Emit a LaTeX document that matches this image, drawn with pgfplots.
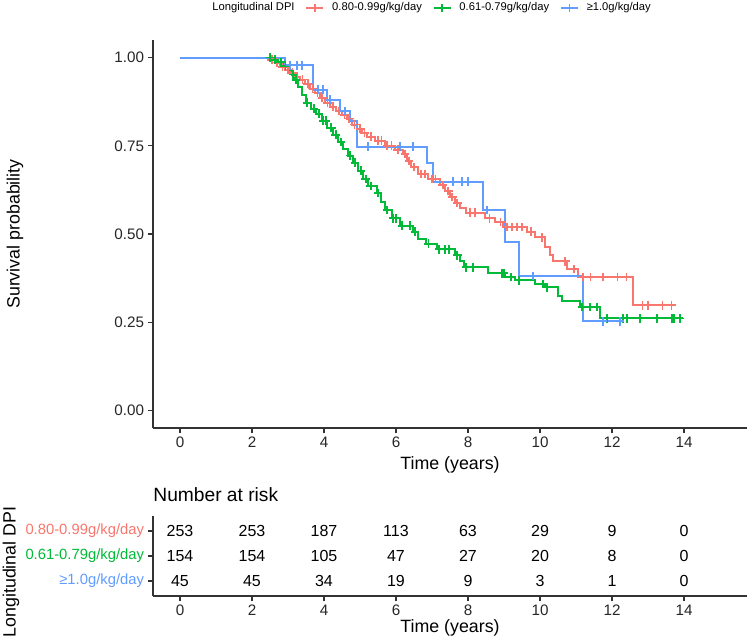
\documentclass[border=0pt]{standalone}
\usepackage{pgfplots}
\pgfplotsset{compat=1.18}
\usepackage{fontspec}
\setmainfont{Liberation Sans}
\definecolor{cred}{HTML}{F8766D}
\definecolor{cgreen}{HTML}{00BA38}
\definecolor{cblue}{HTML}{619CFF}

% shared look of the survival panel and the risk table
\pgfplotsset{
  km/.style={
    scale only axis, width=297pt,
    xmin=-0.75, xmax=15.75,
    xtick={0,2,...,14},
    axis lines*=left,
    axis line style={-, line width=0.6pt, black!80},
    tick align=outside, major tick length=2.5pt,
    tick style={line width=0.6pt, black!80},
    tick label style={font=\fontsize{7.6}{9}\selectfont, text=black!85, inner sep=1.8pt},
    label style={font=\fontsize{8.9}{10}\selectfont},
    /pgf/number format/assume math mode=true,
  },
  censor/.style={only marks, mark=+, mark size=2.2pt, mark options={line width=0.8pt}, forget plot},
  step/.style={const plot, line width=1pt, forget plot},
}

\begin{document}
\begin{tikzpicture}
\useasboundingbox (0,0) rectangle (375pt,-321pt);

\begin{axis}[km,
    at={(76.5pt,-214pt)}, anchor=south west, height=194pt,
    ymin=-0.05, ymax=1.05, ytick={0,0.25,0.5,0.75,1},
    yticklabel style={/pgf/number format/.cd, fixed, fixed zerofill, precision=2},
    xlabel={Time (years)}, ylabel={Survival probability},
    xlabel style={at={(axis description cs:0.5,-0.0954)}, anchor=center},
    ylabel style={at={(axis description cs:-0.2323,0.5)}, anchor=center},
    legend style={at={(axis description cs:0.0859,1.0825)}, anchor=west,
      draw=none, fill=none, inner sep=0pt, legend columns=-1,
      font=\fontsize{5.6}{7}\selectfont,
      nodes={inner sep=0.5pt},
      /tikz/every odd column/.append style={column sep=3.5pt},
      /tikz/every even column/.append style={column sep=5pt}},
    legend image code/.code={
      \draw[#1, line width=0.8pt] (0pt,0pt) -- (8.5pt,0pt);
      \draw[#1, line width=0.8pt] (4.25pt,-2pt) -- (4.25pt,2pt);},
]
\addlegendimage{empty legend}\addlegendentry{Longitudinal DPI}
\addlegendimage{cred}\addlegendentry{0.80-0.99g/kg/day}
\addlegendimage{cgreen}\addlegendentry{0.61-0.79g/kg/day}
\addlegendimage{cblue}\addlegendentry{≥1.0g/kg/day}

% 0.80-0.99 g/kg/day
\addplot[step, cred] coordinates {
(0,1) (2.50,0.994) (2.64,0.986) (2.78,0.974) (2.92,0.966) (3.06,0.957)
(3.19,0.946) (3.33,0.938) (3.47,0.926) (3.61,0.912) (3.75,0.901) (3.89,0.886)
(4.03,0.872) (4.17,0.861) (4.33,0.849) (4.50,0.838) (4.64,0.827) (4.78,0.810)
(4.92,0.798) (5.06,0.787) (5.19,0.776) (5.42,0.764) (5.69,0.750) (5.97,0.739)
(6.19,0.727) (6.31,0.707) (6.42,0.690) (6.61,0.670) (6.89,0.656) (7.22,0.639)
(7.36,0.622) (7.50,0.605) (7.64,0.588) (7.78,0.574) (7.94,0.560) (8.47,0.545)
(8.75,0.534) (8.97,0.520) (9.64,0.506) (9.86,0.491) (10.14,0.463) (10.28,0.440)
(10.36,0.423) (10.75,0.401) (11.06,0.378) (12.58,0.298) (13.69,0.298)
};
% 0.61-0.79 g/kg/day
\addplot[step, cgreen] coordinates {
(0,1) (2.56,0.994) (2.72,0.987) (2.86,0.977) (3.00,0.966) (3.11,0.952)
(3.19,0.937) (3.28,0.918) (3.39,0.895) (3.50,0.872) (3.64,0.855) (3.78,0.841)
(3.94,0.821) (4.08,0.801) (4.25,0.781) (4.39,0.761) (4.53,0.741) (4.67,0.722)
(4.81,0.702) (4.94,0.679) (5.08,0.656) (5.22,0.636) (5.47,0.616) (5.58,0.591)
(5.69,0.568) (5.89,0.545) (6.11,0.523) (6.47,0.506) (6.61,0.486) (6.83,0.472)
(7.14,0.457) (7.64,0.440) (7.78,0.423) (7.89,0.406) (8.56,0.389) (9.03,0.378)
(9.31,0.369) (9.86,0.358) (10.14,0.349) (10.50,0.324) (10.61,0.310) (11.11,0.293)
(11.67,0.261) (13.97,0.261)
};
% >=1.0 g/kg/day
\addplot[step, cblue] coordinates {
(0,1) (2.92,0.978) (3.69,0.909) (4.08,0.881) (4.44,0.849) (4.72,0.821)
(4.92,0.747) (6.86,0.702) (7.03,0.648) (8.42,0.568) (9.03,0.477) (9.42,0.381)
(11.19,0.253) (12.28,0.253)
};

% censoring marks
\addplot[censor, cred] coordinates {
(2.55,0.994) (2.70,0.986) (2.85,0.974) (3.00,0.966) (3.12,0.957) (3.25,0.946)
(3.40,0.938) (3.55,0.926) (3.68,0.912) (3.82,0.901) (3.95,0.886) (4.10,0.872)
(4.25,0.861) (4.42,0.849) (4.57,0.838) (4.70,0.827) (4.85,0.810) (5.00,0.798)
(5.12,0.787) (5.30,0.776) (5.50,0.764) (5.60,0.764) (5.75,0.750) (5.88,0.750)
(6.05,0.739) (6.25,0.727) (6.36,0.707) (6.50,0.690) (6.70,0.670) (6.80,0.670)
(7.00,0.656) (7.10,0.656) (7.30,0.639) (7.45,0.622) (7.56,0.605) (7.70,0.588)
(8.05,0.560) (8.20,0.560) (8.60,0.545) (8.90,0.534) (9.08,0.520) (9.22,0.520)
(9.36,0.520) (9.50,0.520) (9.75,0.506) (10.05,0.491) (10.70,0.423) (10.95,0.401)
(11.20,0.378) (11.40,0.378) (11.75,0.378) (12.15,0.378) (12.40,0.378)
(12.85,0.298) (13.00,0.298) (13.40,0.298) (13.65,0.298)
};
\addplot[censor, cgreen] coordinates {
(2.50,1.000) (2.64,0.994) (2.80,0.987) (2.93,0.977) (3.14,0.952) (3.22,0.937)
(3.53,0.872) (3.72,0.855) (3.86,0.841) (3.97,0.821) (4.05,0.821) (4.20,0.801)
(4.33,0.781) (4.47,0.761) (4.72,0.722) (4.86,0.702) (5.03,0.679) (5.16,0.656)
(5.30,0.636) (5.50,0.616) (5.75,0.568) (5.92,0.545) (6.00,0.545) (6.17,0.523)
(6.39,0.523) (6.53,0.506) (6.90,0.472) (7.20,0.457) (7.36,0.457) (7.47,0.457)
(7.70,0.440) (7.95,0.406) (8.14,0.406) (8.94,0.389) (9.00,0.389) (9.20,0.378)
(9.42,0.369) (10.08,0.358) (10.20,0.349) (11.17,0.293) (11.39,0.293) (11.58,0.293)
(11.86,0.261) (12.31,0.261) (12.42,0.261) (12.78,0.261) (13.25,0.261) (13.67,0.261)
(13.72,0.261) (13.89,0.261)
};
\addplot[censor, cblue] coordinates {
(3.06,0.978) (3.25,0.978) (3.39,0.978) (3.83,0.909) (3.97,0.909) (4.17,0.881)
(4.58,0.849) (5.22,0.747) (6.11,0.747) (6.47,0.747) (7.58,0.648) (7.83,0.648)
(8.00,0.648) (8.53,0.568) (9.81,0.381) (11.75,0.253) (12.22,0.253)
};
\end{axis}

% number at risk
\begin{axis}[km,
    at={(76.5pt,-298pt)}, anchor=south west, height=40pt,
    ymin=0.4, ymax=3.6, ytick={1,2,3},
    yticklabel style={font=\fontsize{7.4}{9}\selectfont},
    yticklabels={\textcolor{cblue}{≥1.0g/kg/day},
                 \textcolor{cgreen}{0.61-0.79g/kg/day},
                 \textcolor{cred}{0.80-0.99g/kg/day}},
    xlabel={Time (years)}, ylabel={Longitudinal DPI},
    xlabel style={at={(axis description cs:0.5,-0.4)}, anchor=center},
    ylabel style={at={(axis description cs:-0.239,0.3)}, anchor=center},
    every axis title shift=0pt,
    title={Number at risk},
    title style={at={(axis description cs:0,1.2625)}, anchor=west, inner sep=0pt,
      font=\fontsize{9.6}{11}\selectfont},
]
\addplot[only marks, mark=none, nodes near coords, point meta=explicit symbolic,
  every node near coord/.append style={anchor=center, text=black,
    font=\fontsize{8}{9}\selectfont}] table[meta=n] {
x y n
0 3 253
2 3 253
4 3 187
6 3 113
8 3 63
10 3 29
12 3 9
14 3 0
0 2 154
2 2 154
4 2 105
6 2 47
8 2 27
10 2 20
12 2 8
14 2 0
0 1 45
2 1 45
4 1 34
6 1 19
8 1 9
10 1 3
12 1 1
14 1 0
};
\end{axis}
\end{tikzpicture}
\end{document}
